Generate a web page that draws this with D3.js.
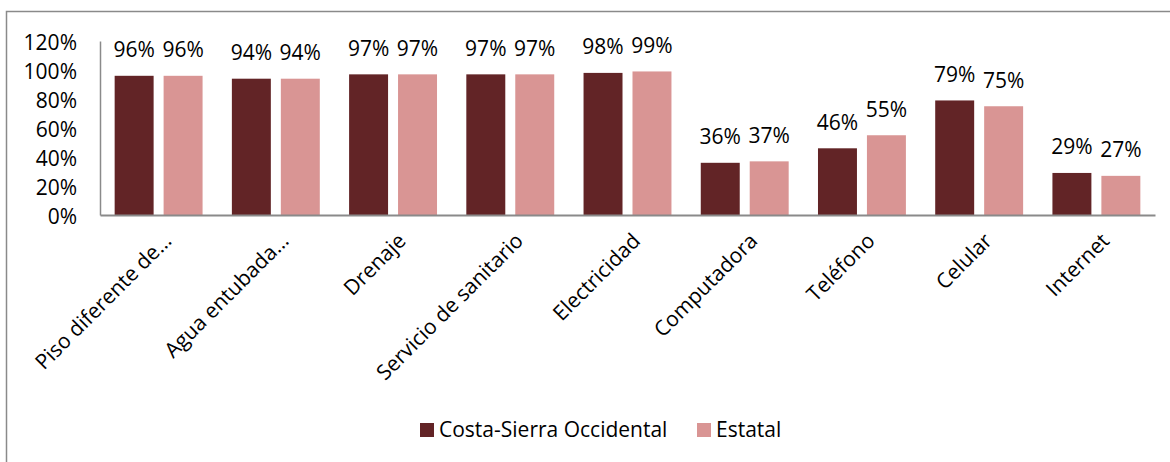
<!DOCTYPE html>
<html>
<head>
<meta charset="utf-8">
<script src="https://cdn.jsdelivr.net/npm/d3@7"></script>
<style>
  body { margin: 0; background: #fff; }
  text { font-family: "Open Sans", sans-serif; fill: #000; }
</style>
</head>
<body>
<div id="chart"></div>
<script>
const categories = ["Piso diferente de…", "Agua entubada…", "Drenaje", "Servicio de sanitario",
  "Electricidad", "Computadora", "Teléfono", "Celular", "Internet"]
const seriesNames = ["Costa-Sierra Occidental", "Estatal"]
const costaSierra = [0.96, 0.94, 0.97, 0.97, 0.98, 0.36, 0.46, 0.79, 0.29]
const estatal = [0.96, 0.94, 0.97, 0.97, 0.99, 0.37, 0.55, 0.75, 0.27]
const yTicks = [0, 0.2, 0.4, 0.6, 0.8, 1.0, 1.2]
const colors = ["#622426", "#d99594"]

const width = 1170
const height = 462
const margin = {top: 41, left: 100, right: 15, bottom: 247}
const fontSize = "21px"

const svg = d3.select("#chart").append("svg")
  .attr("width", width)
  .attr("height", height)

// outer frame (runs off the right and bottom edge)
svg.append("rect")
  .attr("x", 6.5).attr("y", 11.5)
  .attr("width", width + 20).attr("height", height + 20)
  .attr("fill", "none")
  .attr("stroke", "#8a8a8a")
  .attr("stroke-width", 1.5)

const x = d3.scaleBand()
  .domain(categories)
  .range([margin.left, width - margin.right])
  .paddingInner(0.25)
  .paddingOuter(0.125)

const xs = d3.scaleBand()
  .domain(seriesNames)
  .range([0, x.bandwidth()])
  .paddingInner(0.204)

const y = d3.scaleLinear()
  .domain([0, 1.2])
  .range([height - margin.bottom, margin.top])

const rows = categories.map(function(c, i) {
  return {cat: c, values: [costaSierra[i], estatal[i]]}
})

const groups = svg.selectAll(".grp")
  .data(rows)
  .enter().append("g")
  .attr("transform", function(d) { return "translate(" + x(d.cat) + ",0)" })

groups.selectAll("rect")
  .data(function(d) { return d.values.map(function(v, j) { return {name: seriesNames[j], v: v, j: j} }) })
  .enter().append("rect")
  .attr("x", function(d) { return xs(d.name) })
  .attr("y", function(d) { return y(d.v) })
  .attr("width", xs.bandwidth())
  .attr("height", function(d) { return y(0) - y(d.v) })
  .attr("fill", function(d) { return colors[d.j] })

groups.selectAll(".lbl")
  .data(function(d) { return d.values.map(function(v, j) { return {name: seriesNames[j], v: v} }) })
  .enter().append("text")
  .attr("class", "lbl")
  .attr("x", function(d) { return xs(d.name) + xs.bandwidth() / 2 })
  .attr("y", function(d) { return y(d.v) - 18.5 })
  .attr("text-anchor", "middle")
  .style("font-size", fontSize)
  .text(function(d) { return d3.format(".0%")(d.v) })

// y axis
const yAxis = svg.append("g")
  .attr("transform", "translate(" + margin.left + ",0)")
  .call(d3.axisLeft(y).tickValues(yTicks).tickFormat(d3.format(".0%")).tickSize(0).tickPadding(23))
yAxis.select(".domain").attr("stroke", "#8a8a8a").attr("stroke-width", 1.5)
yAxis.selectAll("text")
  .attr("dy", "0.42em")
  .style("font-size", fontSize)
  .style("font-family", "'Open Sans', sans-serif")
  .attr("fill", "#000")

// x axis
const xAxis = svg.append("g")
  .attr("transform", "translate(0," + y(0) + ")")
  .call(d3.axisBottom(x).tickSize(0).tickSizeOuter(0).tickPadding(0))
xAxis.select(".domain").attr("stroke", "#8a8a8a").attr("stroke-width", 2)
xAxis.selectAll("text")
  .attr("y", 0)
  .attr("dy", "0.75em")
  .attr("text-anchor", "end")
  .attr("transform", "translate(3,16) rotate(-45)")
  .style("font-size", fontSize)
  .style("font-family", "'Open Sans', sans-serif")
  .attr("fill", "#000")

// legend
const legendX = [420, 697]
const legend = svg.selectAll(".leg")
  .data(seriesNames)
  .enter().append("g")
  .attr("transform", function(d, i) { return "translate(" + legendX[i] + ",423)" })
legend.append("rect")
  .attr("width", 14).attr("height", 14)
  .attr("fill", function(d, i) { return colors[i] })
legend.append("text")
  .attr("x", 19).attr("y", 14)
  .style("font-size", fontSize)
  .text(function(d) { return d })
</script>
</body>
</html>
